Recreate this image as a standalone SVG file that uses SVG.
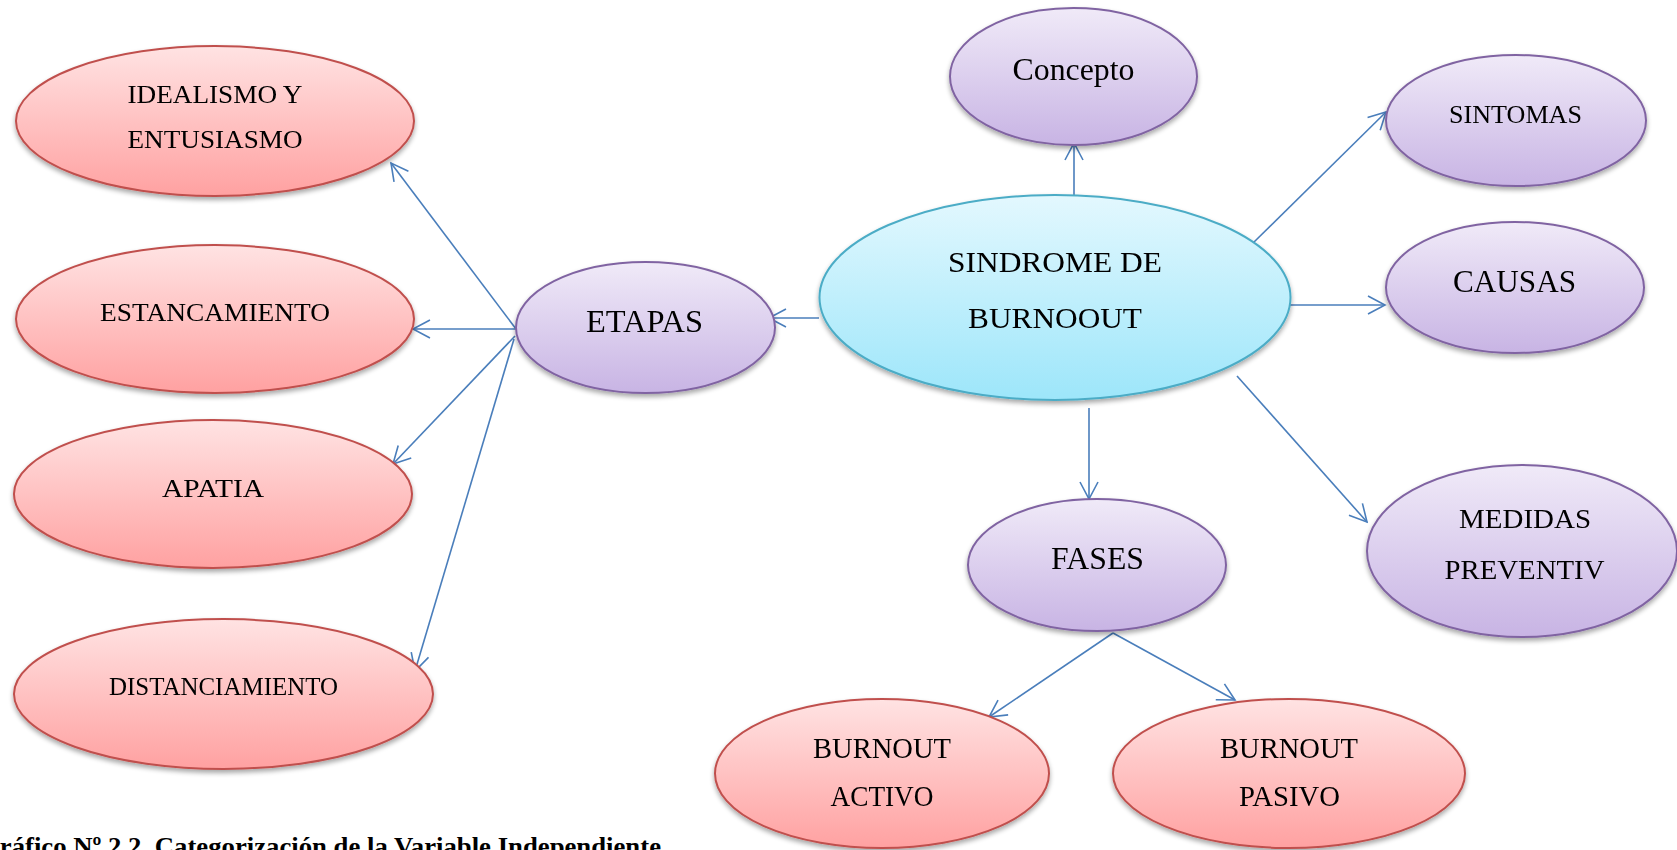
<svg xmlns="http://www.w3.org/2000/svg" width="1677" height="850" viewBox="0 0 1677 850">
<defs>
<linearGradient id="gRed" x1="0" y1="0" x2="0" y2="1">
<stop offset="0" stop-color="#FFE3E3"/><stop offset="1" stop-color="#FFA1A1"/>
</linearGradient>
<linearGradient id="gPur" x1="0" y1="0" x2="0" y2="1">
<stop offset="0" stop-color="#F0EAF8"/><stop offset="1" stop-color="#C8B4E4"/>
</linearGradient>
<linearGradient id="gCyan" x1="0" y1="0" x2="0" y2="1">
<stop offset="0" stop-color="#E3F8FE"/><stop offset="1" stop-color="#9DE6FA"/>
</linearGradient>
<filter id="sh" x="-10%" y="-10%" width="120%" height="130%">
<feGaussianBlur in="SourceAlpha" stdDeviation="2.5"/>
<feOffset dx="0" dy="3" result="b"/>
<feComponentTransfer><feFuncA type="linear" slope="0.35"/></feComponentTransfer>
<feMerge><feMergeNode/><feMergeNode in="SourceGraphic"/></feMerge>
</filter>
<marker id="arr" viewBox="0 0 20 20" refX="18" refY="10" markerWidth="20" markerHeight="20" markerUnits="userSpaceOnUse" orient="auto">
<path d="M1,1 L18,10 L1,19" fill="none" stroke="#4A7EBB" stroke-width="1.6"/>
</marker>
</defs>
<style>
.red{fill:url(#gRed);stroke:#C0504D;stroke-width:2}
.pur{fill:url(#gPur);stroke:#8064A2;stroke-width:2}
.cyan{fill:url(#gCyan);stroke:#4BACC6;stroke-width:2}
.n{filter:url(#sh)}
text{font-family:"Liberation Serif","Times New Roman",serif;fill:#000;text-anchor:middle}
.c{fill:none;stroke:#4A7EBB;stroke-width:1.6;marker-end:url(#arr)}
.cap{font-weight:bold;text-anchor:start;font-size:26px}
</style>
<rect width="1677" height="850" fill="#FFFFFF"/>

<g id="connectors">
<line class="c" x1="1074" y1="196" x2="1074" y2="143"/>
<line class="c" x1="1253" y1="243" x2="1386" y2="112"/>
<line class="c" x1="1290" y1="305" x2="1385" y2="305"/>
<line class="c" x1="1237" y1="376" x2="1367" y2="522"/>
<line class="c" x1="1089" y1="408" x2="1089" y2="499"/>
<line class="c" x1="819" y1="318" x2="769" y2="318"/>
<line class="c" x1="1113" y1="633" x2="989" y2="717"/>
<line class="c" x1="1113" y1="633" x2="1235" y2="700"/>
<line class="c" x1="516" y1="329" x2="391" y2="163"/>
<line class="c" x1="516" y1="329" x2="413" y2="329"/>
<line class="c" x1="515" y1="336" x2="393" y2="464"/>
<line class="c" x1="514" y1="339" x2="415" y2="671"/>
</g>

<g id="idealismo" class="n">
<ellipse class="red" cx="215" cy="121" rx="199" ry="75"/>
<text x="215" y="103" font-size="26" textLength="175" lengthAdjust="spacingAndGlyphs">IDEALISMO Y</text>
<text x="215" y="148" font-size="26" textLength="175" lengthAdjust="spacingAndGlyphs">ENTUSIASMO</text>
</g>
<g id="estancamiento" class="n">
<ellipse class="red" cx="215" cy="319" rx="199" ry="74"/>
<text x="215" y="321" font-size="26" textLength="230" lengthAdjust="spacingAndGlyphs">ESTANCAMIENTO</text>
</g>
<g id="apatia" class="n">
<ellipse class="red" cx="213" cy="494" rx="199" ry="74"/>
<text x="213" y="497" font-size="26" textLength="102" lengthAdjust="spacingAndGlyphs">APATIA</text>
</g>
<g id="distanciamiento" class="n">
<ellipse class="red" cx="223.5" cy="694" rx="209.5" ry="75"/>
<text x="223.5" y="695" font-size="25" textLength="229" lengthAdjust="spacingAndGlyphs">DISTANCIAMIENTO</text>
</g>
<g id="etapas" class="n">
<ellipse class="pur" cx="645.5" cy="327.5" rx="129.5" ry="65.5"/>
<text x="644.5" y="332" font-size="31" textLength="117" lengthAdjust="spacingAndGlyphs">ETAPAS</text>
</g>
<g id="sindrome" class="n">
<ellipse class="cyan" cx="1055" cy="297.5" rx="235.5" ry="102.5"/>
<text x="1055" y="272" font-size="30" textLength="214" lengthAdjust="spacingAndGlyphs">SINDROME DE</text>
<text x="1055" y="328" font-size="30" textLength="174" lengthAdjust="spacingAndGlyphs">BURNOOUT</text>
</g>
<g id="concepto" class="n">
<ellipse class="pur" cx="1073.5" cy="76.5" rx="123.5" ry="68.5"/>
<text x="1073.5" y="80" font-size="32" textLength="122" lengthAdjust="spacingAndGlyphs">Concepto</text>
</g>
<g id="sintomas" class="n">
<ellipse class="pur" cx="1516" cy="120.5" rx="130" ry="65.5"/>
<text x="1515.5" y="123" font-size="26" textLength="133" lengthAdjust="spacingAndGlyphs">SINTOMAS</text>
</g>
<g id="causas" class="n">
<ellipse class="pur" cx="1515" cy="287.5" rx="129" ry="65.5"/>
<text x="1514.5" y="292" font-size="32" textLength="123" lengthAdjust="spacingAndGlyphs">CAUSAS</text>
</g>
<g id="medidas" class="n">
<ellipse class="pur" cx="1522" cy="551" rx="155" ry="86"/>
<text x="1525" y="528" font-size="28" textLength="132" lengthAdjust="spacingAndGlyphs">MEDIDAS</text>
<text x="1524.5" y="579" font-size="28" textLength="160" lengthAdjust="spacingAndGlyphs">PREVENTIV</text>
</g>
<g id="fases" class="n">
<ellipse class="pur" cx="1097" cy="565" rx="129" ry="66"/>
<text x="1097.5" y="569" font-size="31" textLength="93" lengthAdjust="spacingAndGlyphs">FASES</text>
</g>
<g id="burnout-activo" class="n">
<ellipse class="red" cx="882" cy="773.5" rx="167" ry="74.5"/>
<text x="882" y="758" font-size="30" textLength="138" lengthAdjust="spacingAndGlyphs">BURNOUT</text>
<text x="882" y="806" font-size="30" textLength="103" lengthAdjust="spacingAndGlyphs">ACTIVO</text>
</g>
<g id="burnout-pasivo" class="n">
<ellipse class="red" cx="1289" cy="773.5" rx="176" ry="74.5"/>
<text x="1289" y="758" font-size="30" textLength="138" lengthAdjust="spacingAndGlyphs">BURNOUT</text>
<text x="1289.5" y="806" font-size="30" textLength="101" lengthAdjust="spacingAndGlyphs">PASIVO</text>
</g>

<text class="cap" x="-21" y="855" textLength="682" lengthAdjust="spacingAndGlyphs">Gráfico Nº 2.2.  Categorización de la Variable Independiente</text>
</svg>
